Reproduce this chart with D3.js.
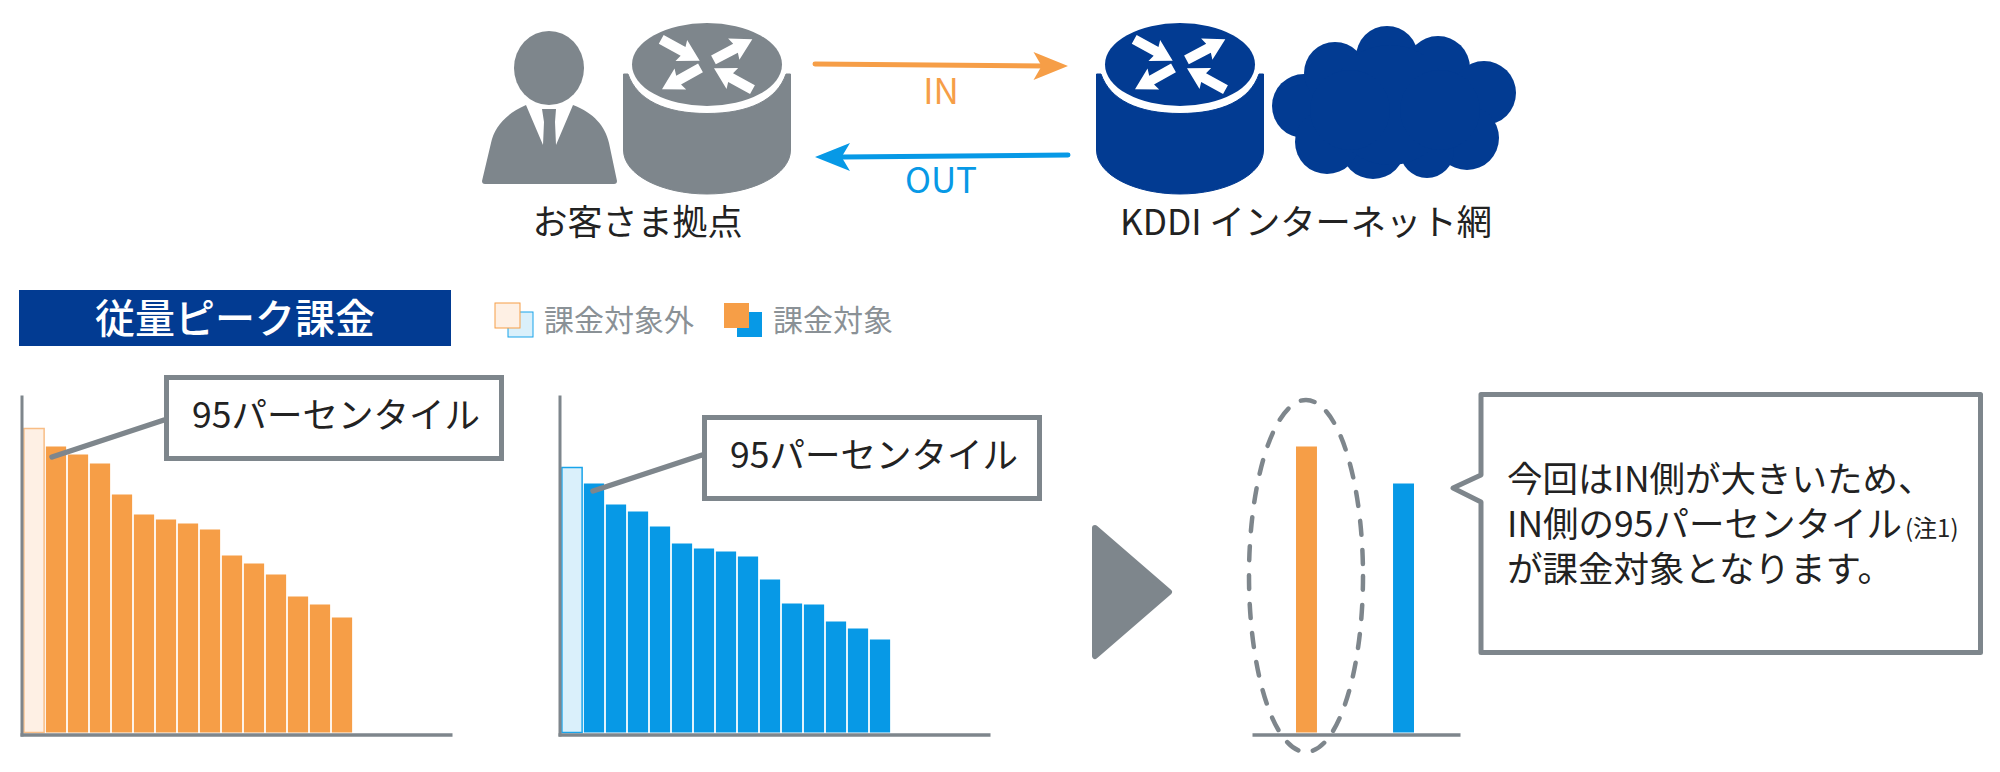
<!DOCTYPE html>
<html>
<head>
<meta charset="utf-8">
<script src="https://cdn.jsdelivr.net/npm/d3@7"></script>
<style>
  body { margin: 0; background: #fff; }
  svg { display: block; }
  text { font-family: "Noto Sans CJK JP", "Noto Sans", sans-serif; }
</style>
</head>
<body>
<svg id="chart" width="2000" height="772"></svg>
<script>
// bar heights (no units in the original, sorted traffic samples)
var slots = d3.range(15);
var inValues = [304, 286, 278, 269, 238, 218, 213, 209, 203, 177, 169, 158, 136, 128, 115];
var outValues = [265, 249, 228, 221, 206, 189, 184, 181, 176, 153, 129, 128, 111, 104, 93];
var resultCategories = ["IN", "OUT"];
var resultValues = [286, 249];
var calloutLabel = "95パーセンタイル";
var legendLabels = ["課金対象外", "課金対象"];
var noteLines = ["今回はIN側が大きいため、", "IN側の95パーセンタイル", "が課金対象となります。"];

var grey = "#7e868c",
    navy = "#023b92",
    orange = "#f69e47",
    blue = "#0799e6",
    paleOrange = "#fef0e4",
    paleBlue = "#daf0fb",
    ink = "#222222";

var svg = d3.select("#chart");

// same value scale for all three plots, baseline at y=732.5
var y = d3.scaleLinear().domain([0, 338]).range([732.5, 394.5]);

function drawAxes(x0, x1, top) {
    var g = svg.append("g");
    var bottomScale = d3.scaleLinear().range([x0, x1]);
    g.append("g")
        .attr("transform", "translate(0,734.5)")
        .call(d3.axisBottom(bottomScale).ticks(0).tickSize(0))
        .select(".domain").attr("stroke", grey).attr("stroke-width", 3.5);
    if (top) {
        var leftScale = d3.scaleLinear().range([736, top]);
        g.append("g")
            .attr("transform", "translate(" + (x0 + 1.5) + ",0)")
            .call(d3.axisLeft(leftScale).ticks(0).tickSize(0))
            .select(".domain").attr("stroke", grey).attr("stroke-width", 3);
    }
}

function drawBars(values, range, fill, paleFill, paleStroke) {
    var x = d3.scaleBand().domain(slots).range(range).paddingInner(0.08).paddingOuter(0.04);
    svg.append("g").selectAll("rect")
        .data(values)
        .enter()
        .append("rect")
        .attr("x", function(d, i) { return x(i); })
        .attr("y", function(d) { return y(d); })
        .attr("width", x.bandwidth())
        .attr("height", function(d) { return y(0) - y(d); })
        .attr("fill", function(d, i) { return i === 0 ? paleFill : fill; })
        .attr("stroke", function(d, i) { return i === 0 ? paleStroke : "none"; })
        .attr("stroke-width", 1.5);
    return x;
}

// callout box + leader line going to the second bar
function drawCallout(bx, by, lx, ly, ey) {
    svg.append("line")
        .attr("x1", lx).attr("y1", ly).attr("x2", bx).attr("y2", ey)
        .attr("stroke", grey).attr("stroke-width", 5.5).attr("stroke-linecap", "round");
    svg.append("rect")
        .attr("x", bx + 2.5).attr("y", by + 2.5).attr("width", 335).attr("height", 81)
        .attr("fill", "#fff").attr("stroke", grey).attr("stroke-width", 5);
    svg.append("text")
        .attr("x", bx + 28).attr("y", by + 53)
        .attr("font-size", 35.5).attr("fill", ink)
        .text(calloutLabel);
}

drawBars(inValues, [23, 353], orange, paleOrange, "#f8bd85");
drawAxes(20, 452, 395);
drawBars(outValues, [561, 891], blue, paleBlue, "#18a4ea");
drawAxes(558, 990, 395);
drawCallout(164, 375, 52, 457, 420);
drawCallout(702, 415, 593, 491, 455);

// result plot, IN against OUT
var xResult = d3.scaleBand().domain(resultCategories).range([1296, 1414]).paddingInner(0.784);
svg.append("g").selectAll("rect")
    .data(resultValues)
    .enter()
    .append("rect")
    .attr("x", function(d, i) { return xResult(resultCategories[i]); })
    .attr("y", function(d) { return y(d); })
    .attr("width", xResult.bandwidth())
    .attr("height", function(d) { return y(0) - y(d); })
    .attr("fill", function(d, i) { return i === 0 ? orange : blue; });
drawAxes(1252, 1460, 0);

svg.append("ellipse")
    .attr("cx", 1306).attr("cy", 576).attr("rx", 57).attr("ry", 176)
    .attr("fill", "none").attr("stroke", grey).attr("stroke-width", 4.5)
    .attr("stroke-dasharray", "14 15").attr("stroke-linecap", "round");

// big arrow between plots and result
svg.append("path")
    .attr("d", "M1095,528L1169,592L1095,656Z")
    .attr("fill", grey).attr("stroke", grey).attr("stroke-width", 6).attr("stroke-linejoin", "round");

// note bubble
svg.append("path")
    .attr("d", "M1481,394.5H1980.5V652.5H1481V502L1453,488L1481,475Z")
    .attr("fill", "#fff").attr("stroke", grey).attr("stroke-width", 5).attr("stroke-linejoin", "round");
var noteY = [492, 537, 582];
svg.append("g").selectAll("text")
    .data(noteLines)
    .enter()
    .append("text")
    .attr("x", 1507)
    .attr("y", function(d, i) { return noteY[i]; })
    .attr("font-size", 35.5).attr("fill", ink)
    .text(function(d) { return d; })
    .filter(function(d, i) { return i === 1; })
    .append("tspan")
    .attr("font-size", 24).attr("dx", 3)
    .text("(注1)");

// title bar
svg.append("rect").attr("x", 19).attr("y", 290).attr("width", 432).attr("height", 56).attr("fill", navy);
svg.append("text")
    .attr("x", 235).attr("y", 333).attr("text-anchor", "middle")
    .attr("font-size", 40).attr("font-weight", 500).attr("fill", "#fff")
    .text("従量ピーク課金");

// legend
function legendItem(x, back, front, backStroke, frontStroke, label, textX) {
    svg.append("rect").attr("x", x + 13).attr("y", 312).attr("width", 25).attr("height", 25)
        .attr("fill", back).attr("stroke", backStroke);
    svg.append("rect").attr("x", x).attr("y", 303).attr("width", 25).attr("height", 25)
        .attr("fill", front).attr("stroke", frontStroke);
    svg.append("text").attr("x", textX).attr("y", 331)
        .attr("font-size", 30).attr("fill", "#8a9196").text(label);
}
legendItem(495, paleBlue, paleOrange, "#18a4ea", orange, legendLabels[0], 544);
legendItem(724, blue, orange, "none", "none", legendLabels[1], 773);

// --- network pictograms ---
function routerArrow(g, cx, cy, angle, tipX, tipY) {
    // arrow drawn pointing along +x with the tip at the origin
    g.append("path")
        .attr("d", "M-44,-5L-19,-5L-21,-12L0,0L-21,12L-19,5L-44,5Z")
        .attr("transform", "translate(" + (cx + tipX) + "," + (cy + tipY) + ") rotate(" + angle + ")")
        .attr("fill", "#fff");
}

function router(cx, color) {
    var g = svg.append("g");
    var cy = 64.5;
    g.append("path")
        .attr("d", "M" + (cx - 79) + ",74C" + (cx - 70) + ",100 " + (cx - 42) + ",113.5 " + cx + ",113.5C"
            + (cx + 42) + ",113.5 " + (cx + 70) + ",100 " + (cx + 79) + ",74L" + (cx + 83.5) + ",74V150C"
            + (cx + 83.5) + ",175 " + (cx + 45) + ",194 " + cx + ",194C" + (cx - 45) + ",194 "
            + (cx - 83.5) + ",175 " + (cx - 83.5) + ",150V74Z")
        .attr("fill", color).attr("stroke", color).attr("stroke-width", 1).attr("stroke-linejoin", "round");
    g.append("ellipse").attr("cx", cx).attr("cy", cy).attr("rx", 75).attr("ry", 41.5).attr("fill", color);
    routerArrow(g, cx, cy, 29, -7.3, -3.8);
    routerArrow(g, cx, cy, -28, 45.3, -25.2);
    routerArrow(g, cx, cy, 151, -45, 24.8);
    routerArrow(g, cx, cy, -151, 7, 3.8);
}

function person() {
    var g = svg.append("g").attr("fill", grey);
    g.append("ellipse").attr("cx", 549).attr("cy", 68).attr("rx", 35).attr("ry", 37);
    g.append("path")
        .attr("d", "M526,105C505,114 494,128 491,143L482,181Q482,184 485,184H614Q617,184 617,181L609,143C605,126 594,113 573,105"
            + "L556,145L555,122L556,109H542L544,122L543,145Z");
}

function cloud(color) {
    var lobes = [[1304, 106, 32], [1335, 73, 31], [1387, 57, 31], [1438, 68, 32], [1484, 93, 32],
        [1467, 138, 32], [1427, 151, 27], [1373, 147, 32], [1327, 142, 32], [1390, 105, 60], [1350, 110, 40], [1440, 110, 40]];
    svg.append("g").selectAll("circle")
        .data(lobes)
        .enter()
        .append("circle")
        .attr("cx", function(d) { return d[0]; })
        .attr("cy", function(d) { return d[1]; })
        .attr("r", function(d) { return d[2]; })
        .attr("fill", color);
}

person();
router(707, grey);
router(1180, navy);
cloud(navy);

// IN / OUT flow arrows
svg.append("line").attr("x1", 815).attr("y1", 64).attr("x2", 1045).attr("y2", 66)
    .attr("stroke", orange).attr("stroke-width", 5).attr("stroke-linecap", "round");
svg.append("path").attr("d", "M1068,66L1033.5,80L1041.6,66L1033.5,52Z").attr("fill", orange);
svg.append("line").attr("x1", 1068).attr("y1", 155).attr("x2", 843).attr("y2", 157)
    .attr("stroke", blue).attr("stroke-width", 5).attr("stroke-linecap", "round");
svg.append("path").attr("d", "M815,157L850,143L841.6,157L850,171Z").attr("fill", blue);

svg.append("text").attr("x", 941).attr("y", 104).attr("text-anchor", "middle")
    .attr("font-size", 35).attr("fill", orange).text("IN");
svg.append("text").attr("x", 941).attr("y", 193).attr("text-anchor", "middle")
    .attr("font-size", 35).attr("fill", blue).text("OUT");
svg.append("text").attr("x", 637.5).attr("y", 235).attr("text-anchor", "middle")
    .attr("font-size", 35).attr("fill", ink).text("お客さま拠点");
svg.append("text").attr("x", 1306).attr("y", 235).attr("text-anchor", "middle")
    .attr("font-size", 35.3).attr("fill", ink).text("KDDI インターネット網");
</script>
</body>
</html>
